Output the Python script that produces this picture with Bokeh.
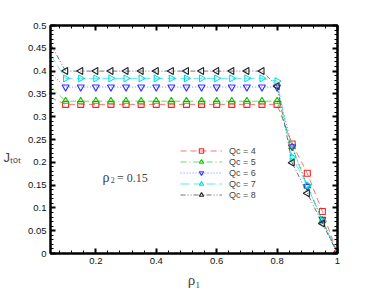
from bokeh.plotting import figure
from bokeh.models import (FixedTicker, LinearAxis, Label, Legend, LegendItem,
                          CustomJSTickFormatter, Range1d)
from bokeh.embed import file_html
from bokeh.resources import INLINE
import math

rho1 = [0.05, 0.10, 0.15, 0.20, 0.25, 0.30, 0.35, 0.40, 0.45, 0.50,
        0.55, 0.60, 0.65, 0.70, 0.75, 0.80, 0.85, 0.90, 0.95, 1.00]
j_qc4 = [0.342, 0.327, 0.327, 0.327, 0.327, 0.327, 0.327, 0.327, 0.327, 0.327,
         0.327, 0.327, 0.327, 0.327, 0.327, 0.327, 0.240, 0.176, 0.092, 0.000]
j_qc5 = [0.367, 0.334, 0.334, 0.334, 0.334, 0.334, 0.334, 0.334, 0.334, 0.334,
         0.334, 0.334, 0.334, 0.334, 0.334, 0.334, 0.234, 0.148, 0.072, 0.000]
j_qc6 = [0.395, 0.365, 0.365, 0.365, 0.365, 0.365, 0.365, 0.365, 0.365, 0.365,
         0.365, 0.365, 0.365, 0.365, 0.365, 0.365, 0.234, 0.147, 0.075, 0.000]
j_qc7 = [0.436, 0.384, 0.384, 0.384, 0.384, 0.384, 0.384, 0.384, 0.384, 0.384,
         0.384, 0.384, 0.384, 0.384, 0.384, 0.378, 0.211, 0.150, 0.071, 0.000]
j_qc8 = [0.460, 0.400, 0.400, 0.400, 0.400, 0.400, 0.400, 0.400, 0.400, 0.400,
         0.400, 0.400, 0.400, 0.400, 0.400, 0.367, 0.199, 0.132, 0.066, 0.000]
series_labels = ["Qc = 4", "Qc = 5", "Qc = 6", "Qc = 7", "Qc = 8"]
x_ticks = [0.2, 0.4, 0.6, 0.8, 1.0]
x_minor = [0.08, 0.12, 0.16, 0.24, 0.28, 0.32, 0.36, 0.44, 0.48, 0.52, 0.56,
           0.64, 0.68, 0.72, 0.76, 0.84, 0.88, 0.92, 0.96]
y_ticks = [0.0, 0.05, 0.1, 0.15, 0.2, 0.25, 0.3, 0.35, 0.4, 0.45, 0.5]
y_minor = [i / 100 for i in range(0, 51) if i % 5 != 0]

p = figure(width=366, height=290, x_range=Range1d(0.05, 1.0), y_range=Range1d(0, 0.5),
           output_backend="svg", toolbar_location=None,
           min_border_left=50, min_border_right=29, min_border_top=25, min_border_bottom=31)
p.xgrid.visible = False
p.ygrid.visible = False
p.outline_line_color = "black"
p.outline_line_width = 2
p.background_fill_color = "white"
p.border_fill_color = "white"

fmt = CustomJSTickFormatter(code="return String(Math.round(tick*100)/100);")
blank = CustomJSTickFormatter(code="return '';")

def style_axis(ax, labels=True):
    ax.axis_line_width = 2
    ax.axis_line_color = "black"
    ax.major_tick_in = 5
    ax.major_tick_out = 0
    ax.minor_tick_in = 3
    ax.minor_tick_out = 0
    ax.major_tick_line_width = 2
    ax.minor_tick_line_width = 1
    ax.major_label_standoff = 4
    ax.major_label_text_font = "Liberation Sans"
    ax.major_label_text_font_size = "9.5px"
    ax.major_label_text_color = "#111111"
    ax.formatter = fmt if labels else blank

xt = FixedTicker(ticks=x_ticks, minor_ticks=x_minor)
yt = FixedTicker(ticks=y_ticks, minor_ticks=y_minor)
xa = p.xaxis[0]
ya = p.yaxis[0]
xa.ticker = xt
ya.ticker = yt
style_axis(xa)
style_axis(ya)

xa.axis_label = "ρ₁"
xa.axis_label_text_font = "Liberation Serif"
xa.axis_label_text_font_style = "normal"
xa.axis_label_text_font_size = "15px"
xa.axis_label_standoff = 5

ya.axis_label = "\n\nJₜₒₜ"
ya.axis_label_orientation = "horizontal"
ya.axis_label_text_font = "Liberation Sans"
ya.axis_label_text_font_style = "normal"
ya.axis_label_text_font_size = "13px"
ya.axis_label_standoff = 4

ra = LinearAxis(ticker=yt)
ta = LinearAxis(ticker=xt)
style_axis(ra, False)
style_axis(ta, False)
ra.major_label_standoff = 0
ta.major_label_standoff = 0
p.add_layout(ra, "right")
p.add_layout(ta, "above")

specs = [
    (j_qc4, "#ff2020", "6 4", "square", 6, 0.0),
    (j_qc5, "#00d000", "6 3 1 3", "triangle", 7, 0.0),
    (j_qc6, "#3030ff", "1 2", "inverted_triangle", 7, 0.0),
    (j_qc7, "#00dede", "9 4", "triangle", 7, -math.pi / 2),
    (j_qc8, "#222222", "5 2 1 2 1 2", "triangle", 7, math.pi / 2),
]
items = []
for (ys, col, dash, mk, sz, ang), lab in zip(specs, series_labels):
    lr = p.line(rho1, ys, line_color=col, line_width=0.9, line_dash=dash, line_alpha=0.7)
    sr = p.scatter(rho1[1:], ys[1:], marker=mk, size=sz, angle=ang,
                   fill_color=None, line_color=col, line_width=1.1)
    items.append(LegendItem(label=lab, renderers=[lr, sr]))

leg = Legend(items=items, location=(130, 53), padding=0, margin=0, spacing=0,
             glyph_width=42, glyph_height=11, label_height=11, label_standoff=7,
             label_text_font="Liberation Sans", label_text_font_size="9px",
             border_line_color=None, background_fill_alpha=0)
p.add_layout(leg, "center")

# helper: image px -> data
def dx(px):
    return 0.05 + (px - 50) / 301.8
def dy(py):
    return (259 - py) / 468.0

p.add_layout(Label(x=dx(102), y=dy(181), text="ρ", text_font="Liberation Serif",
                   text_font_size="14px", text_baseline="alphabetic"))
p.add_layout(Label(x=dx(110.3), y=dy(184), text="2", text_font="Liberation Serif",
                   text_font_size="8px", text_baseline="alphabetic"))
p.add_layout(Label(x=dx(116.5), y=dy(182), text="= 0.15", text_font="Liberation Serif",
                   text_font_size="12px", text_baseline="alphabetic"))

open("out.html", "w").write(file_html(p, INLINE))
